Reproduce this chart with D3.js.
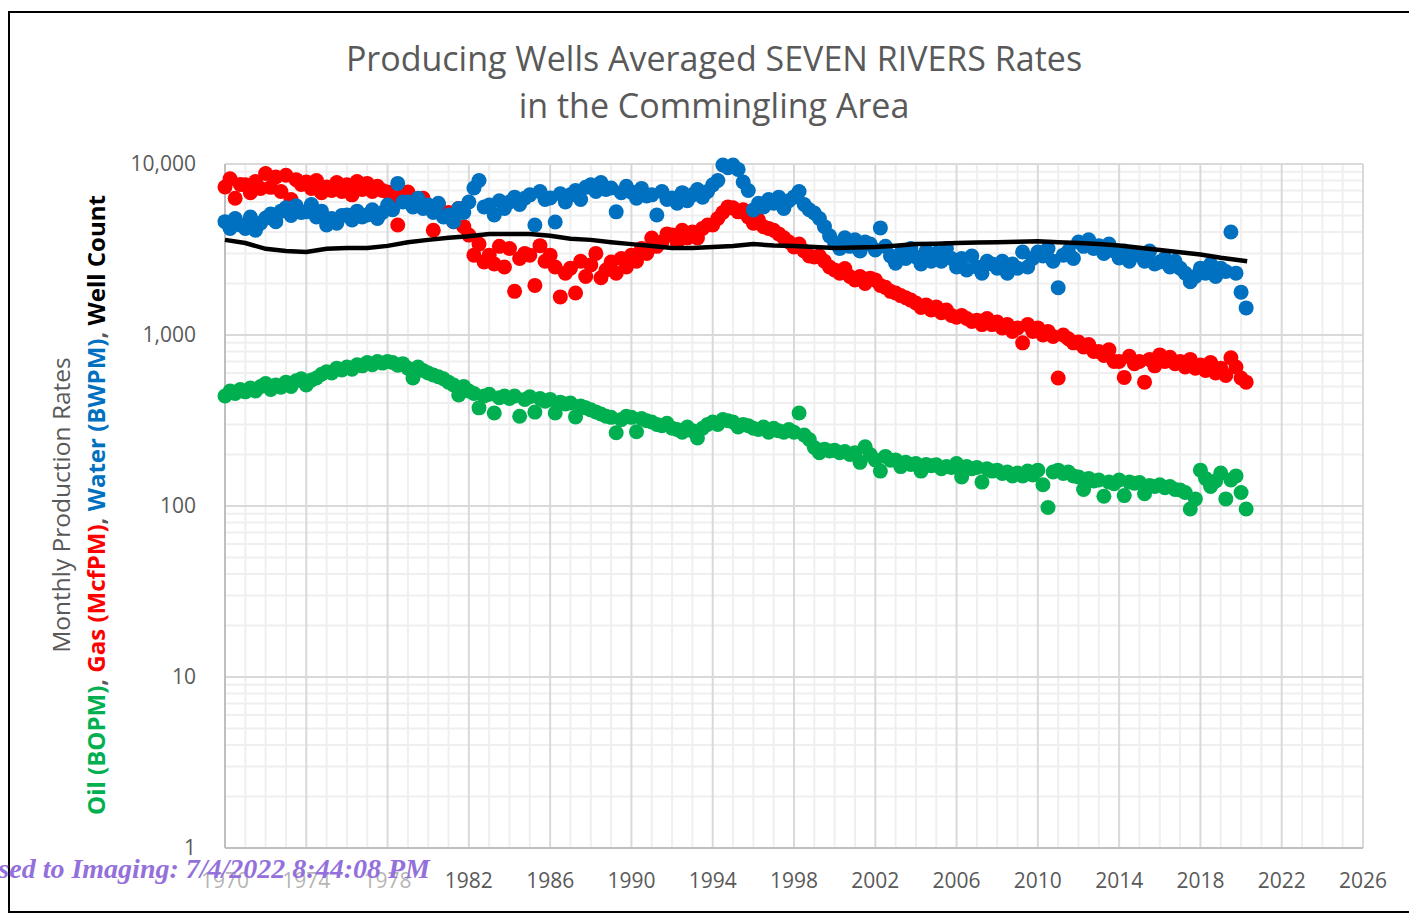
<!DOCTYPE html>
<html>
<head>
<meta charset="utf-8">
<script src="https://cdn.jsdelivr.net/npm/d3@7"></script>
<style>
  body { margin: 0; background: #fff; }
  text { font-family: "Open Sans", sans-serif; }
</style>
</head>
<body>
<div id="chart"></div>
<script>
// quarterly averages, first value = Jan 1970
var startYear = 1970;

var oil = [
  440, 470, 455, 480,   465, 490, 470, 500,   520, 480, 510, 495,   530, 500, 540, 555,
  510, 545, 560, 590,   610, 600, 640, 625,   650, 630, 670, 660,   690, 670, 700, 685,
  700, 690, 665, 680,   640, 560, 650, 620,   600, 584, 570, 555,   530, 510, 446, 500,
  470, 455, 375, 440,   450, 350, 430, 440,   425, 440, 335, 420,   435, 354, 425, 410,
  420, 350, 405, 395,   400, 332, 385, 375,   365, 355, 345, 335,   330, 268, 320, 335,
  330, 272, 325, 315,   310, 300, 295, 305,   285, 280, 270, 290,   275, 250, 285, 300,
  310, 300, 320, 315,   310, 290, 300, 295,   285, 280, 290, 270,   285, 275, 270, 280,
  270, 350, 260, 245,   220, 205, 215, 210,   212, 205, 208, 200,   205, 180, 222, 200,
  186, 160, 195, 185,   186, 170, 180, 175,   177, 160, 175, 172,   174, 165, 170, 168,
  177, 148, 170, 165,   168, 138, 165, 160,   162, 155, 158, 150,   156, 150, 160, 152,
  162, 133, 98, 158,    162, 155, 158, 150,   148, 125, 145, 140,   142, 114, 138, 135,
  142, 115, 138, 136,   137, 118, 132, 130,   133, 128, 130, 125,   124, 120, 96, 110,
  162, 145, 130, 140,   156, 110, 142, 150,   120, 96
];

var gas = [
  7340, 8200, 6300, 7600,   7550, 6800, 7900, 7200,   8800, 7300, 8400, 6900,   8600, 6200, 8100, 7600,
  7850, 7200, 8000, 6800,   7340, 7000, 7800, 6900,   7550, 6600, 7900, 7100,   7700, 6900, 7400, 7000,
  6850, 6400, 4400, 6600,   6850, 6200, 5900, 6300,   5540, 4100, 5800, 5000,   5200, 4600, 5500, 4300,
  3840, 2930, 3400, 2670,   2930, 2600, 3300, 2500,   3200, 1800, 2800, 3000,   2930, 1950, 3330, 2700,
  2930, 2500, 1670, 2300,   2460, 1760, 2700, 2200,   2570, 3000, 2160, 2400,   2670, 2300, 2800, 2500,
  2930, 2700, 3200, 3000,   3690, 3300, 3500, 3900,   3840, 3500, 4100, 3700,   4000, 3700, 4200, 4400,
  4400, 4800, 5200, 5610,   5540, 5250, 5400, 4900,   4500, 4700, 4300, 4200,   4100, 3900, 3700, 3500,
  3270, 3400, 3100, 2900,   2860, 2900, 2700, 2500,   2400, 2300, 2450, 2200,   2100, 2200, 2000, 2150,
  2100, 1950, 1900, 1800,   1760, 1700, 1650, 1600,   1540, 1450, 1500, 1400,   1460, 1350, 1400, 1300,
  1270, 1300, 1250, 1200,   1220, 1150, 1250, 1150,   1190, 1100, 1150, 1050,   1100, 900, 1150, 1050,
  1100, 1000, 1050, 980,    560, 1000, 950, 900,      910, 850, 880, 800,       800, 760, 820, 700,
  700, 565, 750, 680,       700, 530, 720, 660,       765, 700, 740, 680,       700, 650, 720, 640,
  668, 620, 690, 600,       640, 580, 735, 650,       560, 530
];

var water = [
  4600, 4200, 4800, 4400,   4200, 4900, 4100, 4500,   4830, 5100, 4600, 5300,   5540, 5000, 5700, 5200,
  5250, 5800, 4900, 5300,   4400, 4800, 4500, 5000,   5030, 4700, 5300, 4900,   5030, 5400, 4800, 5200,
  5750, 5400, 7700, 6000,   6000, 5600, 6300, 5500,   5750, 5200, 5900, 4900,   5030, 4600, 5500, 5200,
  6000, 7240, 8000, 5600,   5750, 5030, 6100, 5500,   6000, 6400, 5800, 6300,   6600, 4400, 6900, 6200,
  6330, 4580, 6700, 6000,   6600, 7000, 6200, 7300,   7550, 6900, 7800, 7100,   7240, 5250, 6800, 7400,
  6850, 6300, 7200, 6500,   6600, 5030, 6900, 6200,   6330, 5900, 6800, 6100,   6600, 7100, 6400, 6900,
  7550, 8000, 9870, 9500,   9870, 9300, 7850, 7000,   5390, 5900, 5600, 6200,   5900, 6400, 5500, 6100,
  6420, 6900, 5800, 5400,   5170, 4800, 4300, 3800,   3450, 3200, 3700, 3300,   3600, 3100, 3500, 3400,
  3140, 4230, 3300, 2900,   2630, 3000, 2800, 3200,   2860, 2600, 3100, 2700,   3010, 2700, 3200, 2800,
  2500, 2800, 2400, 2900,   2500, 2300, 2700, 2600,   2460, 2700, 2300, 2600,   2460, 3060, 2500, 2800,
  3060, 2900, 3200, 2700,   1890, 2930, 3100, 2800,   3500, 3300, 3600, 3200,   3330, 3000, 3400, 3100,
  2820, 3100, 2700, 3000,   2930, 2700, 3100, 2600,   2670, 2800, 2500, 2700,   2460, 2300, 2050, 2200,
  2460, 2300, 2600, 2200,   2460, 2350, 4000, 2300,   1780, 1440
];

var wellYears = [1970, 1971, 1972, 1973, 1974, 1975, 1976, 1977, 1978, 1979,
                 1980, 1981, 1982, 1983, 1984, 1985, 1986, 1987, 1988, 1989,
                 1990, 1991, 1992, 1993, 1994, 1995, 1996, 1997, 1998, 1999,
                 2000, 2001, 2002, 2003, 2004, 2005, 2006, 2007, 2008, 2009,
                 2010, 2011, 2012, 2013, 2014, 2015, 2016, 2017, 2018, 2019, 2020.3];
var wellCount = [3600, 3450, 3190, 3100, 3060, 3190, 3230, 3230, 3320, 3490,
                 3600, 3700, 3780, 3900, 3900, 3900, 3800, 3650, 3600, 3490,
                 3400, 3320, 3230, 3230, 3270, 3320, 3400, 3340, 3320, 3270,
                 3230, 3250, 3270, 3330, 3400, 3420, 3450, 3470, 3490, 3510,
                 3530, 3490, 3450, 3400, 3340, 3240, 3140, 3050, 2960, 2830, 2700];

var xTicks = d3.range(1970, 2027, 4);
var yTicks = [1, 10, 100, 1000, 10000];

(function() {
  var width = 1409, height = 914;
  var pLeft = 225, pRight = 1363, pTop = 164, pBottom = 848;

  var svg = d3.select("#chart").append("svg")
    .attr("width", width)
    .attr("height", height);

  // outer frame
  svg.append("rect")
    .attr("x", 9).attr("y", 12)
    .attr("width", 1420).attr("height", 900)
    .attr("fill", "none").attr("stroke", "#000").attr("stroke-width", 2);

  var x = d3.scaleLinear().domain([1970, 2026]).range([pLeft, pRight]);
  var y = d3.scaleLog().domain([1, 10000]).range([pBottom, pTop]);

  // minor grid
  var minorX = d3.range(1970, 2027).filter(function(d) { return (d - 1970) % 4 != 0; });
  var minorY = [];
  [1, 10, 100, 1000].forEach(function(d) {
    for (var k = 2; k <= 9; k++) minorY.push(d * k);
  });

  var grid = svg.append("g");
  grid.selectAll(".vminor").data(minorX).enter().append("line")
    .attr("x1", x).attr("x2", x).attr("y1", pTop).attr("y2", pBottom)
    .attr("stroke", "#efefef").attr("stroke-width", 2);
  grid.selectAll(".hminor").data(minorY).enter().append("line")
    .attr("y1", y).attr("y2", y).attr("x1", pLeft).attr("x2", pRight)
    .attr("stroke", "#efefef").attr("stroke-width", 2);
  grid.selectAll(".vmajor").data(xTicks).enter().append("line")
    .attr("x1", x).attr("x2", x).attr("y1", pTop).attr("y2", pBottom)
    .attr("stroke", "#d9d9d9").attr("stroke-width", 2);
  grid.selectAll(".hmajor").data(yTicks).enter().append("line")
    .attr("y1", y).attr("y2", y).attr("x1", pLeft).attr("x2", pRight)
    .attr("stroke", "#d9d9d9").attr("stroke-width", 2);

  // axis lines
  svg.append("line").attr("x1", pLeft).attr("x2", pLeft).attr("y1", pTop).attr("y2", pBottom)
    .attr("stroke", "#bfbfbf").attr("stroke-width", 2);
  svg.append("line").attr("x1", pLeft).attr("x2", pRight).attr("y1", pBottom).attr("y2", pBottom)
    .attr("stroke", "#bfbfbf").attr("stroke-width", 2);

  // tick labels
  var fmt = d3.format(",");
  svg.selectAll(".ylab").data(yTicks).enter().append("text")
    .attr("x", 196).attr("y", function(d) { return y(d) + 7; })
    .attr("text-anchor", "end")
    .attr("font-size", 21).attr("fill", "#595959")
    .text(function(d) { return fmt(d); });

  svg.selectAll(".xlab").data(xTicks).enter().append("text")
    .attr("x", x).attr("y", 888)
    .attr("text-anchor", "middle")
    .attr("font-size", 21).attr("fill", "#595959")
    .text(function(d) { return d; });

  // series
  function dots(values, color) {
    svg.append("g").selectAll("circle")
      .data(values).enter().append("circle")
      .attr("cx", function(d, i) { return x(startYear + i / 4); })
      .attr("cy", function(d) { return y(d); })
      .attr("r", 7.5)
      .attr("fill", color);
  }
  dots(oil, "#00b050");
  dots(gas, "#ff0000");
  dots(water, "#0070c0");

  var line = d3.line()
    .x(function(d, i) { return x(wellYears[i]); })
    .y(function(d) { return y(d); });
  svg.append("path")
    .datum(wellCount)
    .attr("d", line)
    .attr("fill", "none")
    .attr("stroke", "#000")
    .attr("stroke-width", 4.5);

  // title
  svg.append("text")
    .attr("x", 714).attr("y", 71)
    .attr("text-anchor", "middle")
    .attr("font-size", 34).attr("fill", "#595959")
    .text("Producing Wells Averaged SEVEN RIVERS Rates");
  svg.append("text")
    .attr("x", 714).attr("y", 118)
    .attr("text-anchor", "middle")
    .attr("font-size", 34).attr("fill", "#595959")
    .text("in the Commingling Area");

  // y axis title
  svg.append("text")
    .attr("transform", "translate(70,505) rotate(-90)")
    .attr("text-anchor", "middle")
    .attr("font-size", 24.5).attr("fill", "#595959")
    .text("Monthly Production Rates");

  var yt = svg.append("text")
    .attr("transform", "translate(105,505) rotate(-90)")
    .attr("text-anchor", "middle")
    .attr("font-size", 24).attr("font-weight", "bold");
  yt.append("tspan").attr("fill", "#00b050").text("Oil (BOPM)");
  yt.append("tspan").attr("fill", "#595959").text(", ");
  yt.append("tspan").attr("fill", "#ff0000").text("Gas (McfPM)");
  yt.append("tspan").attr("fill", "#595959").text(", ");
  yt.append("tspan").attr("fill", "#0070c0").text("Water (BWPM)");
  yt.append("tspan").attr("fill", "#595959").text(", ");
  yt.append("tspan").attr("fill", "#000").text("Well Count");

  // imaging stamp
  svg.append("rect")
    .attr("x", 11).attr("y", 856)
    .attr("width", 425).attr("height", 44)
    .attr("fill", "#fff").attr("opacity", 0.55);
  svg.append("text")
    .attr("x", 430).attr("y", 878)
    .attr("text-anchor", "end")
    .style("font-family", "'Liberation Serif', serif")
    .attr("font-size", 28).attr("font-weight", "bold").attr("font-style", "italic")
    .attr("fill", "#9370db")
    .text("Released to Imaging: 7/4/2022 8:44:08 PM");
})();
</script>
</body>
</html>
